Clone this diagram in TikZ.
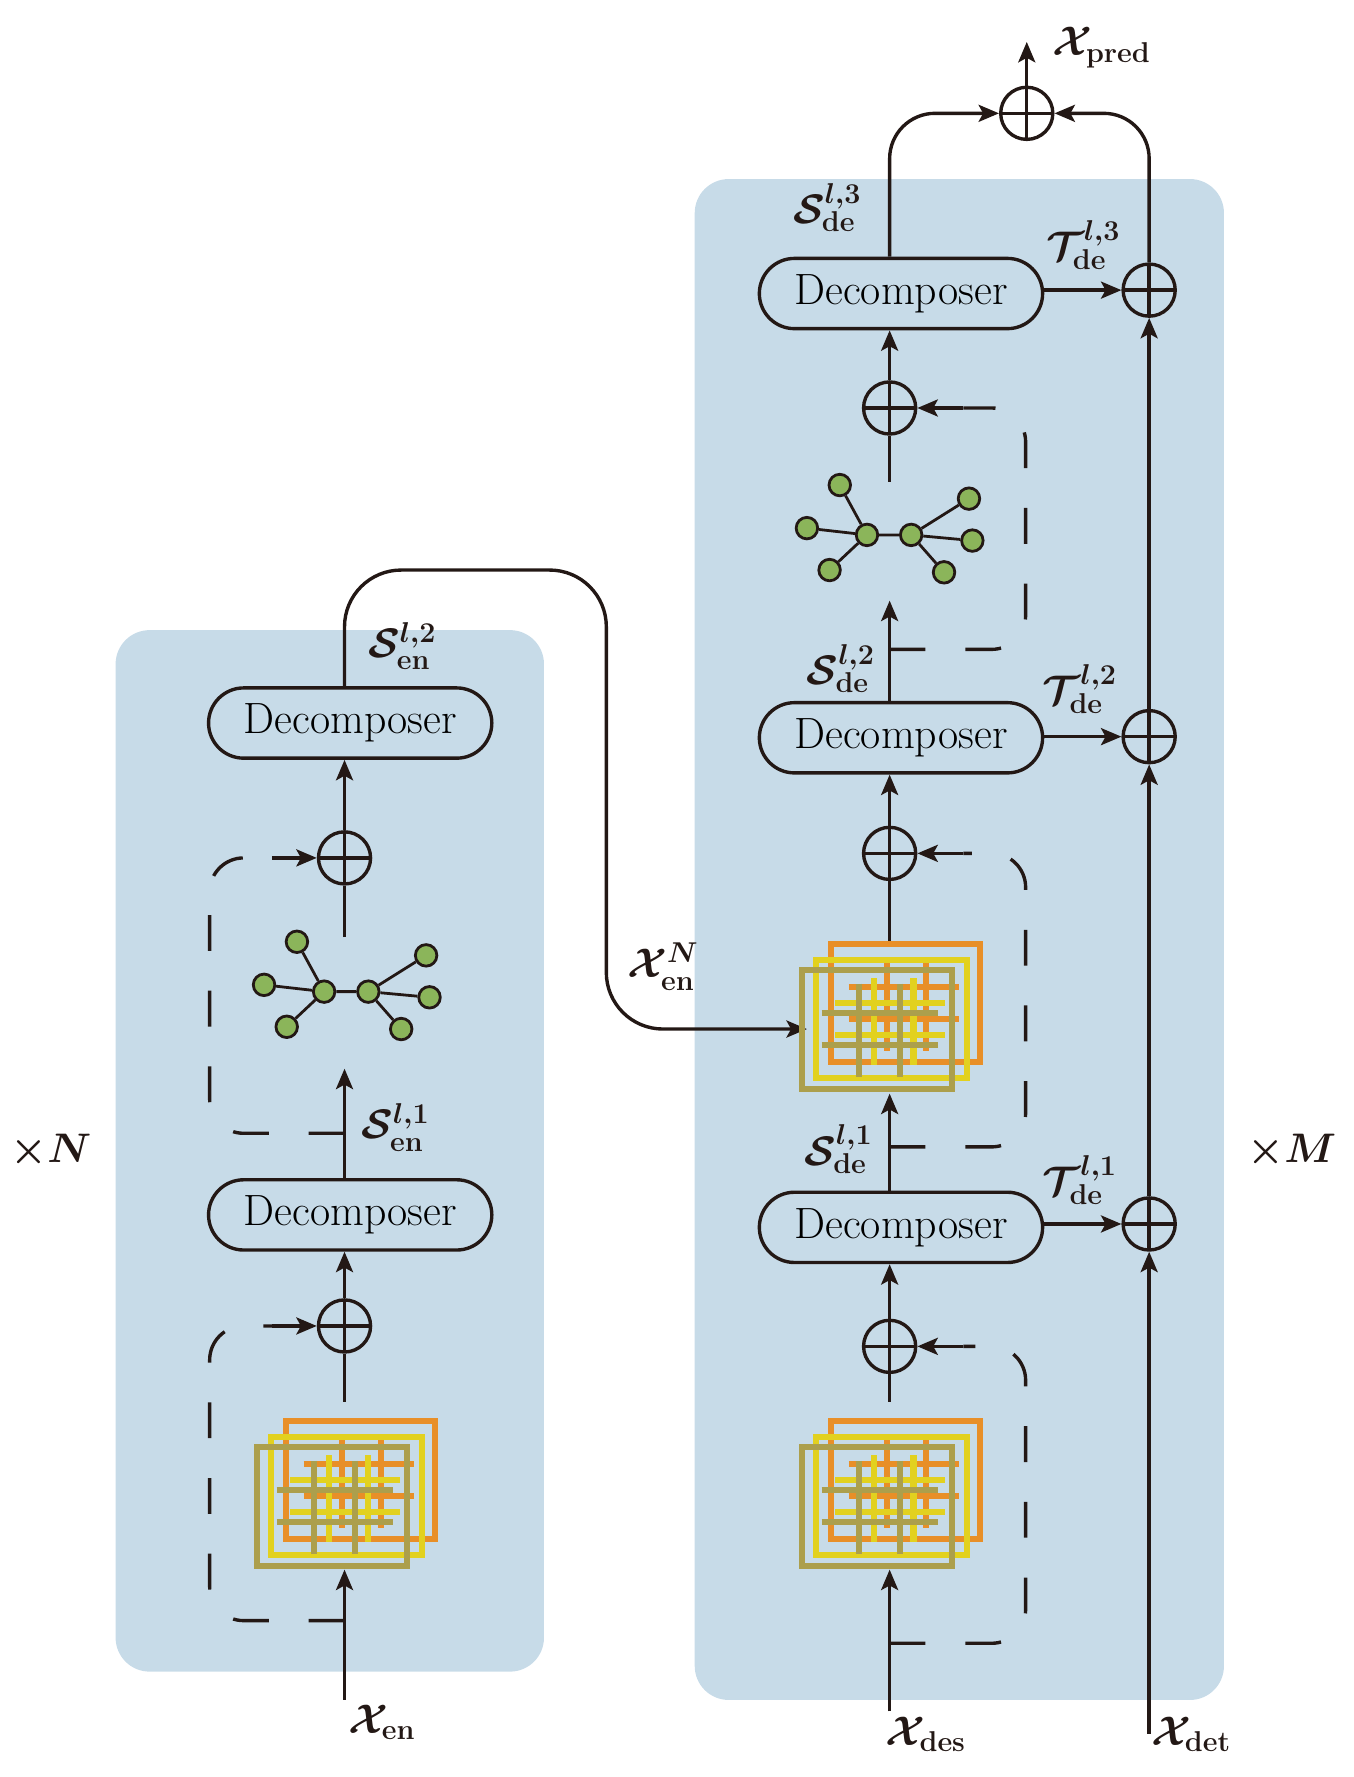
\documentclass[tikz,border=0pt]{standalone}
\usetikzlibrary{arrows.meta,shapes.misc}
\definecolor{panel}{HTML}{C7DBE8}
\definecolor{ink}{HTML}{231815}
\definecolor{cor}{HTML}{E88F28}
\definecolor{cye}{HTML}{E2D11F}
\definecolor{col}{HTML}{AC9F4C}
\definecolor{gnode}{HTML}{8BB55A}
\begin{document}
\begin{tikzpicture}[x=0.02cm,y=-0.02cm,
  line width=1.7pt, draw=ink,
  arr/.style={-{Stealth[length=0.36cm,width=0.3cm,inset=0.08cm]}},
  dsh/.style={dash pattern=on 18pt off 20pt, rounded corners=0.6cm},
  dec/.style={draw=ink, rounded rectangle, minimum width=5cm, minimum height=1.24cm, inner sep=0pt, font=\fontsize{22}{26}\selectfont},
  op/.style={draw=ink, circle, minimum size=0.92cm, inner sep=0pt, path picture={\draw[ink,line width=1.7pt] (path picture bounding box.north)--(path picture bounding box.south) (path picture bounding box.west)--(path picture bounding box.east);}},
  lab/.style={font=\fontsize{20}{24}\selectfont\boldmath, text=ink, inner sep=0pt},
  gn/.style={circle, draw=ink, fill=gnode, line width=1.4pt, minimum size=0.38cm, inner sep=0pt},
  grid/.pic={
    \begin{scope}[line width=3.1pt]
    \draw[cor] (0,0) rectangle (132,104);
    \draw[cor] (50,12)--(50,94) (84,12)--(84,94) (16,38)--(113,38) (16,66)--(113,66);
    \draw[cye] (-13,14) rectangle (120,118);
    \draw[cye] (38,30)--(38,107) (73,30)--(73,107) (4,52)--(101,52) (4,80)--(101,80);
    \draw[col] (-25,23) rectangle (107,128);
    \draw[col] (25,35)--(25,117) (61,35)--(61,117) (-8,61)--(95,61) (-8,89)--(95,89);
    \end{scope}},
  graph/.pic={
    \node[gn] (-a) at (0,0) {}; \node[gn] (-b) at (-29,38) {}; \node[gn] (-c) at (-9,75) {};
    \node[gn] (-d) at (24,44) {}; \node[gn] (-e) at (63,44) {}; \node[gn] (-f) at (114,12) {};
    \node[gn] (-g) at (117,49) {}; \node[gn] (-h) at (92,77) {};
    \draw[line width=1.4pt] (-d)--(-a) (-d)--(-b) (-d)--(-c) (-d)--(-e) (-e)--(-f) (-e)--(-g) (-e)--(-h);}
]
\useasboundingbox (0,0) rectangle (1194,1568);
\fill[panel,rounded corners=0.6cm] (102,556) rectangle (480,1475);
\fill[panel,rounded corners=0.6cm] (613,158) rectangle (1080,1500);

% ---------- left column
\pic at (252,1254) {grid};
\pic (lg) at (262,831) {graph};
\node[op] (lo1) at (304,1170) {};
\node[op] (lo2) at (304,757) {};
\node[dec] (ld1) at (309,1072) {Decomposer};
\node[dec] (ld2) at (309,638) {Decomposer};
\coordinate (lin) at (304,1500);
\coordinate (lib) at (304,1385);
\coordinate (lit) at (304,1237);
\coordinate (lgb) at (304,943);
\coordinate (lgt) at (304,827);
\coordinate (ltop) at (304,607);
\coordinate (rib) at (712,908);
\draw[arr] (lin)--(lib);
\draw (lit)--(lo1);
\draw[arr] (lo1)--(ld1.south-|lo1);
\draw[arr] (ld1.north-|lo1)--(lgb);
\draw (lgt)--(lo2);
\draw[arr] (lo2)--(ld2.south-|lo2);
\draw[arr,rounded corners=1cm] (ltop)--(304,503)--(535,503)--(535,908)--(rib);
\draw[dsh] (304,1430)--(185,1430)--(185,1170)--(240,1170);
\draw[arr] (240,1170)--(lo1);
\draw[dsh] (304,1000)--(185,1000)--(185,757)--(240,757);
\draw[arr] (240,757)--(lo2);
\node[lab] at (337,1520) {$\mathcal{X}_{\mathrm{en}}$};
\node[lab] at (349,995) {$\mathcal{S}_{\mathrm{en}}^{l,1}$};
\node[lab] at (355,570) {$\mathcal{S}_{\mathrm{en}}^{l,2}$};
\node[lab] at (585,853) {$\mathcal{X}_{\mathrm{en}}^{N}$};
\node[lab] at (45,1016) {$\times N$};

% ---------- right column
\pic at (733,1254) {grid};
\pic at (733,833) {grid};
\pic (rg) at (741,428) {graph};
\node[op] (ro1) at (785,1188) {};
\node[op] (ro2) at (785,753) {};
\node[op] (ro3) at (785,360) {};
\node[dec] (rd1) at (795,1083) {Decomposer};
\node[dec] (rd2) at (795,651) {Decomposer};
\node[dec] (rd3) at (795,259) {Decomposer};
\node[op] (t1) at (1014,1080) {};
\node[op] (t2) at (1014,650) {};
\node[op] (t3) at (1014,256) {};
\node[op] (tp) at (906,100) {};
\coordinate (rin) at (785,1510);
\coordinate (r1b) at (785,1385);
\coordinate (r1t) at (785,1237);
\coordinate (r2b) at (785,965);
\coordinate (r2t) at (785,830);
\coordinate (rgb) at (785,530);
\coordinate (rgt) at (785,425);
\coordinate (tin) at (1014,1530);
\coordinate (pout) at (906,37);
\draw[arr] (rin)--(r1b);
\draw (r1t)--(ro1);
\draw[arr] (ro1)--(rd1.south-|ro1);
\draw[arr] (rd1.north-|ro1)--(r2b);
\draw (r2t)--(ro2);
\draw[arr] (ro2)--(rd2.south-|ro2);
\draw[arr] (rd2.north-|ro2)--(rgb);
\draw (rgt)--(ro3);
\draw[arr] (ro3)--(rd3.south-|ro3);
\draw[dsh] (785,1450)--(905,1450)--(905,1188)--(850,1188);
\draw[arr] (850,1188)--(ro1);
\draw[dsh] (785,1012)--(905,1012)--(905,753)--(850,753);
\draw[arr] (850,753)--(ro2);
\draw[dsh] (785,573)--(905,573)--(905,360)--(850,360);
\draw[arr] (850,360)--(ro3);
\draw[arr] (rd1.east|-t1)--(t1);
\draw[arr] (rd2.east|-t2)--(t2);
\draw[arr] (rd3.east|-t3)--(t3);
\draw[arr] (tin)--(t1);
\draw[arr] (t1)--(t2);
\draw[arr] (t2)--(t3);
\draw[arr,rounded corners=0.8cm] (t3.north)--(1014,100)--(tp);
\draw[arr,rounded corners=0.8cm] (rd3.north-|ro3)--(785,100)--(tp);
\draw[arr] (tp)--(pout);
\node[lab] at (972,42) {$\mathcal{X}_{\mathrm{pred}}$};
\node[lab] at (817,1530) {$\mathcal{X}_{\mathrm{des}}$};
\node[lab] at (1051,1530) {$\mathcal{X}_{\mathrm{det}}$};
\node[lab] at (740,1014) {$\mathcal{S}_{\mathrm{de}}^{l,1}$};
\node[lab] at (742,590) {$\mathcal{S}_{\mathrm{de}}^{l,2}$};
\node[lab] at (730,183) {$\mathcal{S}_{\mathrm{de}}^{l,3}$};
\node[lab] at (953,1041) {$\mathcal{T}_{\mathrm{de}}^{l,1}$};
\node[lab] at (953,608) {$\mathcal{T}_{\mathrm{de}}^{l,2}$};
\node[lab] at (956,216) {$\mathcal{T}_{\mathrm{de}}^{l,3}$};
\node[lab] at (1140,1016) {$\times M$};
\end{tikzpicture}
\end{document}
